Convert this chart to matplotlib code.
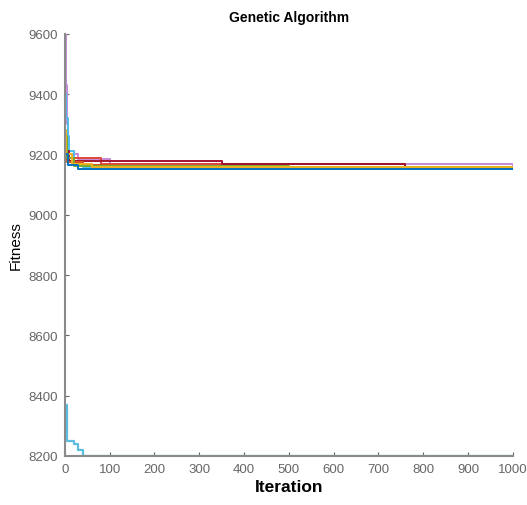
import matplotlib
matplotlib.use("Agg")
import matplotlib.pyplot as plt

plt.rcParams["font.family"] = ["Liberation Sans", "DejaVu Sans"]

# breakpoints (iteration, fitness) for each GA run, drawn as step lines
runs = {
    "purple":    ([1, 2, 4, 8, 30, 100, 1000], [9600, 9430, 9300, 9200, 9185, 9170, 9165]),
    "lightblue": ([1, 3, 6, 10, 20, 40, 1000], [9400, 9320, 9260, 9210, 9175, 9160, 9158]),
    "red":       ([1, 5, 80, 760, 1000], [9230, 9190, 9170, 9155, 9155]),
    "darkred":   ([1, 10, 350, 760, 1000], [9210, 9180, 9168, 9160, 9160]),
    "orange":    ([1, 5, 40, 120, 1000], [9240, 9175, 9165, 9158, 9158]),
    "green":     ([1, 4, 20, 500, 1000], [9260, 9190, 9162, 9157, 9157]),
    "yellow":    ([1, 3, 15, 60, 1000], [9280, 9200, 9170, 9160, 9160]),
    "blue":      ([1, 6, 30, 1000], [9200, 9165, 9152, 9152]),
}
low_run = ([1, 5, 20, 30, 40, 1000], [8370, 8250, 8240, 8220, 8200, 8200])

colors = {
    "purple": "#c58ad8",
    "lightblue": "#4dbeee",
    "red": "#e0463e",
    "darkred": "#a2142f",
    "orange": "#d95319",
    "green": "#77ac30",
    "yellow": "#edb120",
    "blue": "#0072bd",
}

xticks = list(range(0, 1001, 100))
yticks = list(range(8200, 9601, 200))

fig = plt.figure(figsize=(5.27, 5.06), dpi=100)
ax = fig.add_axes([0.123, 0.097, 0.85, 0.834])

for name, (x, y) in runs.items():
    ax.plot(x, y, drawstyle="steps-post", color=colors[name], linewidth=1.4)
ax.plot(low_run[0], low_run[1], drawstyle="steps-post", color="#5bbde0", linewidth=1.6)

ax.set_xlim(0, 1000)
ax.set_ylim(8200, 9600)
ax.set_xticks(xticks)
ax.set_yticks(yticks)

for s in ["top", "right"]:
    ax.spines[s].set_visible(False)
for s in ["left", "bottom"]:
    ax.spines[s].set_color("#8a8a8a")
    ax.spines[s].set_linewidth(1.5)
ax.tick_params(direction="in", length=3, color="#666666", labelsize=9.5,
               labelcolor="#666666", pad=5)

ax.set_title("Genetic Algorithm", fontsize=10, fontweight="bold", pad=9)
ax.set_xlabel("Iteration", fontsize=12.5, fontweight="bold", labelpad=3)
ax.set_ylabel("Fitness", fontsize=11, labelpad=4)

fig.savefig("out.png", dpi=100)
